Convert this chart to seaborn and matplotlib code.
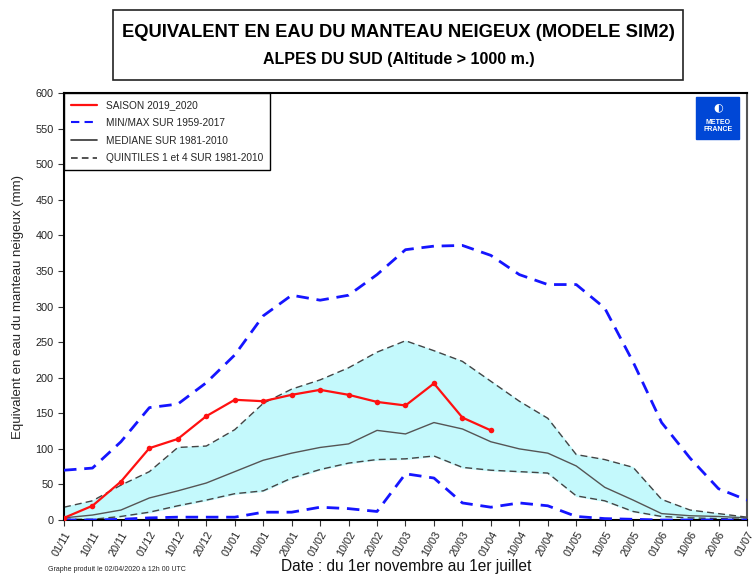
import numpy as np
import pandas as pd
import matplotlib
matplotlib.use("Agg")
import matplotlib.pyplot as plt
from matplotlib.patches import Rectangle
from matplotlib.lines import Line2D
import seaborn as sns

dates = ["01/11", "10/11", "20/11", "01/12", "10/12", "20/12", "01/01", "10/01",
         "20/01", "01/02", "10/02", "20/02", "01/03", "10/03", "20/03", "01/04",
         "10/04", "20/04", "01/05", "10/05", "20/05", "01/06", "10/06", "20/06", "01/07"]

max_1959_2017 = [70, 73, 110, 158, 163, 193, 232, 287, 316, 309, 316, 345, 380, 385,
                 386, 372, 345, 331, 331, 298, 222, 137, 87, 44, 28]
min_1959_2017 = [0, 0, 1, 3, 4, 4, 4, 11, 11, 18, 16, 12, 65, 59, 24, 18, 24, 20,
                 5, 2, 1, 0, 0, 0, 0]
quint4 = [18, 27, 49, 68, 102, 104, 127, 164, 184, 197, 214, 236, 252, 238, 223, 195,
          167, 143, 92, 85, 74, 29, 14, 9, 4]
median = [3, 7, 14, 31, 41, 52, 68, 84, 94, 102, 107, 126, 121, 137, 128, 110, 100,
          94, 76, 46, 28, 9, 6, 5, 3]
quint1 = [1, 1, 5, 11, 20, 28, 37, 41, 59, 71, 80, 85, 86, 90, 74, 70, 68, 66, 34,
          27, 12, 5, 3, 2, 1]
saison_2019_2020 = [3, 20, 54, 101, 114, 146, 169, 167, 176, 183, 176, 166, 161, 192,
                    144, 126]

idx = np.arange(len(dates))
df = pd.DataFrame({"i": idx, "max": max_1959_2017, "min": min_1959_2017,
                   "q4": quint4, "med": median, "q1": quint1})
season = pd.DataFrame({"i": idx[:len(saison_2019_2020)], "v": saison_2019_2020})

sns.set_style("ticks")
plt.rcParams["font.family"] = ["Liberation Sans", "DejaVu Sans"]

fig = plt.figure(figsize=(7.53, 5.76), dpi=100)
ax = fig.add_axes([0.085, 0.0972, 0.907, 0.741])

ax.fill_between(df["i"], df["q1"], df["q4"], color="#c4f9fc", zorder=1)
sns.lineplot(data=df, x="i", y="q4", ax=ax, color="#444444", lw=1,
             linestyle=(0, (5, 3)), zorder=2)
sns.lineplot(data=df, x="i", y="q1", ax=ax, color="#444444", lw=1,
             linestyle=(0, (5, 3)), zorder=2)
sns.lineplot(data=df, x="i", y="med", ax=ax, color="#555555", lw=1, zorder=2)
sns.lineplot(data=df, x="i", y="max", ax=ax, color="#1515ff", lw=2,
             linestyle=(0, (4.5, 2.8)), zorder=3)
sns.lineplot(data=df, x="i", y="min", ax=ax, color="#1515ff", lw=2,
             linestyle=(0, (4.5, 2.8)), zorder=3)
sns.lineplot(data=season, x="i", y="v", ax=ax, color="#ff1010", lw=1.6,
             marker="o", markersize=4, markeredgewidth=0, zorder=4)

ax.set_xlim(0, len(dates) - 1)
ax.set_ylim(0, 600)
ax.set_yticks(range(0, 601, 50))
ax.set_xticks(idx)
ax.set_xticklabels(dates, rotation=60, ha="right", rotation_mode="anchor")
ax.tick_params(axis="both", labelsize=7.8, length=4, width=0.8, colors="#333333",
               labelcolor="#222222")
ax.tick_params(axis="x", pad=3)
ax.set_xlabel("")
ax.set_ylabel("Equivalent en eau du manteau neigeux (mm)", fontsize=9.5, labelpad=8)
for side in ["left", "bottom", "top"]:
    ax.spines[side].set_color("black")
    ax.spines[side].set_linewidth(1.5)
ax.spines["right"].set_color("#555555")
ax.spines["right"].set_linewidth(1.5)

handles = [Line2D([], [], color="#ff1010", lw=1.6),
           Line2D([], [], color="#1515ff", lw=1.5, linestyle=(0, (4, 2.5))),
           Line2D([], [], color="#333333", lw=1.2),
           Line2D([], [], color="#333333", lw=1.2, linestyle=(0, (4, 2.5)))]
labels = ["SAISON 2019_2020", "MIN/MAX SUR 1959-2017", "MEDIANE SUR 1981-2010",
          "QUINTILES 1 et 4 SUR 1981-2010"]
leg = ax.legend(handles, labels, loc="upper left", fontsize=7.3, frameon=True,
                fancybox=False, edgecolor="black", framealpha=1,
                borderaxespad=0, handlelength=2.6, borderpad=0.7, labelspacing=0.75)
leg.get_frame().set_linewidth(1.0)

# logo
ax.add_patch(Rectangle((0.926, 0.892), 0.063, 0.1, transform=ax.transAxes,
                       color="#0047d6", zorder=5))
ax.text(0.9575, 0.922, "METEO\nFRANCE", transform=ax.transAxes, color="white",
        fontsize=5, fontweight="bold", ha="center", va="center", linespacing=1.0,
        zorder=6)
ax.text(0.9575, 0.967, "\u25d0", transform=ax.transAxes, color="white",
        fontsize=8, ha="center", va="center", zorder=6,
        family=["DejaVu Sans"])

# title box
fig.patches.append(Rectangle((0.150, 0.861), 0.757, 0.122, transform=fig.transFigure,
                             fill=False, edgecolor="#222222", lw=1.2))
fig.text(0.529, 0.943, "EQUIVALENT EN EAU DU MANTEAU NEIGEUX (MODELE SIM2)",
         ha="center", va="center", fontsize=13.2, fontweight="bold", color="black")
fig.text(0.529, 0.896, "ALPES DU SUD (Altitude > 1000 m.)", ha="center", va="center",
         fontsize=11.5, fontweight="bold", color="black")

fig.text(0.539, 0.004, "Date : du 1er novembre au 1er juillet", ha="center",
         va="bottom", fontsize=11.2, color="#111111")
fig.text(0.064, 0.008, "Graphe produit le 02/04/2020 \u00e0 12h 00 UTC", fontsize=5,
         color="#222222")

fig.savefig("out.png", dpi=100)
